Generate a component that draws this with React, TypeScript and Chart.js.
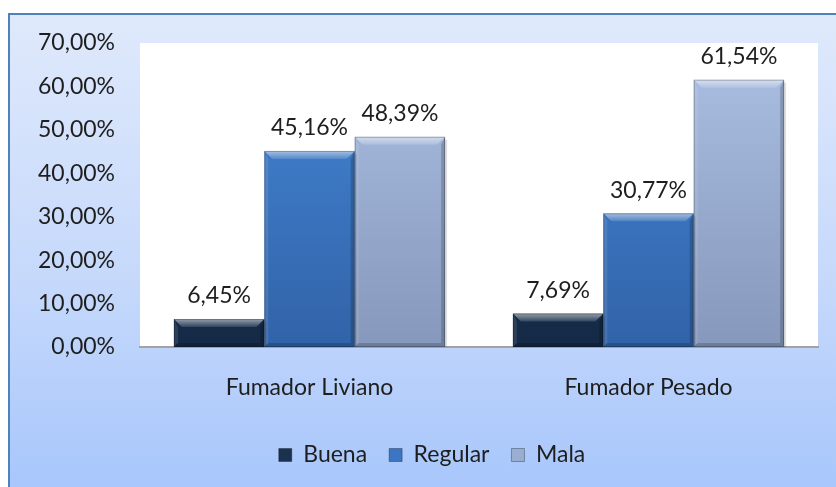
import React, { useEffect, useRef } from "react";
import { Chart, registerables } from "chart.js";

Chart.register(...registerables);

const categories = ["Fumador Liviano", "Fumador Pesado"];
const seriesNames = ["Buena", "Regular", "Mala"];
const buena = [6.45, 7.69];
const regular = [45.16, 30.77];
const mala = [48.39, 61.54];
const yTicks = [0, 10, 20, 30, 40, 50, 60, 70];

const FONT = "Lato, 'Open Sans', sans-serif";
const TEXT = "#1e1e1e";
const FS = 23;

const palettes = [
  { top: "#1d3758", bottom: "#142a46", legend: "#1a3150" },
  { top: "#4486d6", bottom: "#3163a8", legend: "#3b75c4" },
  { top: "#abc0e4", bottom: "#8698bb", legend: "#9aaed2" },
];

const fmt = (v: number) => v.toFixed(2).replace(".", ",") + "%";

function makeGradient(ctx: any, idx: number) {
  const chart = ctx.chart;
  const area = chart.chartArea;
  if (!area) return palettes[idx].top;
  const g = chart.ctx.createLinearGradient(0, area.top, 0, area.bottom);
  g.addColorStop(0, palettes[idx].top);
  g.addColorStop(1, palettes[idx].bottom);
  return g;
}

const plotBg = {
  id: "plotBg",
  beforeDraw(chart: any) {
    const { ctx, chartArea } = chart;
    ctx.save();
    ctx.fillStyle = "#ffffff";
    ctx.fillRect(chartArea.left, chartArea.top, chartArea.right - chartArea.left, chartArea.bottom - chartArea.top);
    ctx.restore();
  },
};

const legendShift = {
  id: "legendShift",
  afterLayout(chart: any) {
    if (chart.legend) chart.legend.left += 46;
  },
};

const bevel = {
  id: "bevel",
  afterDatasetsDraw(chart: any) {
    const ctx = chart.ctx;
    chart.data.datasets.forEach((_: any, di: number) => {
      const meta = chart.getDatasetMeta(di);
      meta.data.forEach((el: any) => {
        const { x, y, base, width } = el.getProps(["x", "y", "base", "width"], true);
        const l = x - width / 2;
        const r = x + width / 2;
        const t = y;
        const b = base;
        const h = b - t;
        const bv = Math.min(8, h / 2);
        ctx.save();
        ctx.fillStyle = "rgba(0,0,0,0.12)";
        ctx.fillRect(r, t + 3, 2, h - 3);
        const tg = ctx.createLinearGradient(0, t, 0, t + bv);
        tg.addColorStop(0, "rgba(255,255,255,0.55)");
        tg.addColorStop(1, "rgba(255,255,255,0.12)");
        ctx.fillStyle = tg;
        ctx.beginPath();
        ctx.moveTo(l, t);
        ctx.lineTo(r, t);
        ctx.lineTo(r - bv, t + bv);
        ctx.lineTo(l + bv, t + bv);
        ctx.closePath();
        ctx.fill();
        ctx.fillStyle = "rgba(255,255,255,0.10)";
        ctx.beginPath();
        ctx.moveTo(l, t);
        ctx.lineTo(l + bv / 2, t + bv);
        ctx.lineTo(l + bv / 2, b - bv / 2);
        ctx.lineTo(l, b);
        ctx.closePath();
        ctx.fill();
        ctx.fillStyle = "rgba(0,0,0,0.18)";
        ctx.beginPath();
        ctx.moveTo(r, t);
        ctx.lineTo(r - bv / 2, t + bv);
        ctx.lineTo(r - bv / 2, b - bv / 2);
        ctx.lineTo(r, b);
        ctx.closePath();
        ctx.fill();
        ctx.fillStyle = "rgba(0,0,0,0.18)";
        ctx.beginPath();
        ctx.moveTo(l, b);
        ctx.lineTo(l + bv / 2, b - bv / 2);
        ctx.lineTo(r - bv / 2, b - bv / 2);
        ctx.lineTo(r, b);
        ctx.closePath();
        ctx.fill();
        ctx.strokeStyle = "rgba(0,0,0,0.25)";
        ctx.lineWidth = 1;
        ctx.strokeRect(l + 0.5, t + 0.5, width - 1, h - 1);
        ctx.restore();
      });
    });
  },
};

const valueLabels = {
  id: "valueLabels",
  afterDatasetsDraw(chart: any) {
    const ctx = chart.ctx;
    ctx.save();
    ctx.font = `${FS}px ${FONT}`;
    ctx.fillStyle = TEXT;
    ctx.textAlign = "center";
    ctx.textBaseline = "middle";
    chart.data.datasets.forEach((ds: any, di: number) => {
      const meta = chart.getDatasetMeta(di);
      meta.data.forEach((el: any, i: number) => {
        ctx.fillText(fmt(ds.data[i]), el.x, el.y - 23);
      });
    });
    ctx.restore();
  },
};

export default function App() {
  const ref = useRef<HTMLCanvasElement | null>(null);

  useEffect(() => {
    if (!ref.current) return;
    const series = [buena, regular, mala];
    const chart = new Chart(ref.current, {
      type: "bar",
      data: {
        labels: categories,
        datasets: series.map((d, i) => ({
          label: seriesNames[i],
          data: d,
          backgroundColor: (c: any) => makeGradient(c, i),
          borderWidth: 0,
          categoryPercentage: 0.8,
          barPercentage: 1.0,
        })),
      },
      options: {
        responsive: false,
        animation: false,
        devicePixelRatio: 1,
        layout: { padding: { top: 43, right: 18, left: 0, bottom: 10.5 } },
        plugins: {
          tooltip: { enabled: false },
          legend: {
            position: "bottom",
            labels: {
              font: { size: FS, family: FONT },
              color: TEXT,
              boxWidth: 13,
              boxHeight: 13,
              padding: 22,
              generateLabels: () =>
                seriesNames.map((n, i) => ({
                  text: n,
                  fillStyle: palettes[i].legend,
                  strokeStyle: "rgba(0,0,0,0.3)",
                  lineWidth: 1,
                  datasetIndex: i,
                  fontColor: TEXT,
                })),
            },
          },
        },
        scales: {
          x: {
            grid: { display: false, drawTicks: false },
            border: { display: true, color: "#a3a3a3", width: 2 },
            ticks: { font: { size: FS, family: FONT }, color: TEXT, padding: 27 },
            afterFit: (s: any) => {
              s.height = 74.5;
            },
          },
          y: {
            min: 0,
            max: 70,
            afterBuildTicks: (s: any) => {
              s.ticks = yTicks.map((v) => ({ value: v }));
            },
            grid: { display: false, drawTicks: false },
            border: { display: false },
            ticks: {
              font: { size: FS, family: FONT },
              color: TEXT,
              padding: 25,
              callback: (v: any) => fmt(Number(v)),
            },
            afterFit: (s: any) => {
              s.width = 140;
            },
          },
        },
      },
      plugins: [plotBg, legendShift, bevel, valueLabels],
    });
    return () => chart.destroy();
  }, []);

  return (
    <div style={{ position: "fixed", left: 0, top: 0, width: 836, height: 487, overflow: "hidden", background: "#ffffff" }}>
      <div
        style={{
          position: "absolute",
          left: 8,
          top: 13,
          width: 840,
          height: 480,
          border: "2px solid #4f81bd",
          background: "linear-gradient(to bottom, #dfe9fb 0%, #c6d9fb 55%, #a7c6fb 100%)",
        }}
      />
      <canvas ref={ref} width={836} height={487} style={{ position: "absolute", left: 0, top: 0, width: 836, height: 487 }} />
    </div>
  );
}
